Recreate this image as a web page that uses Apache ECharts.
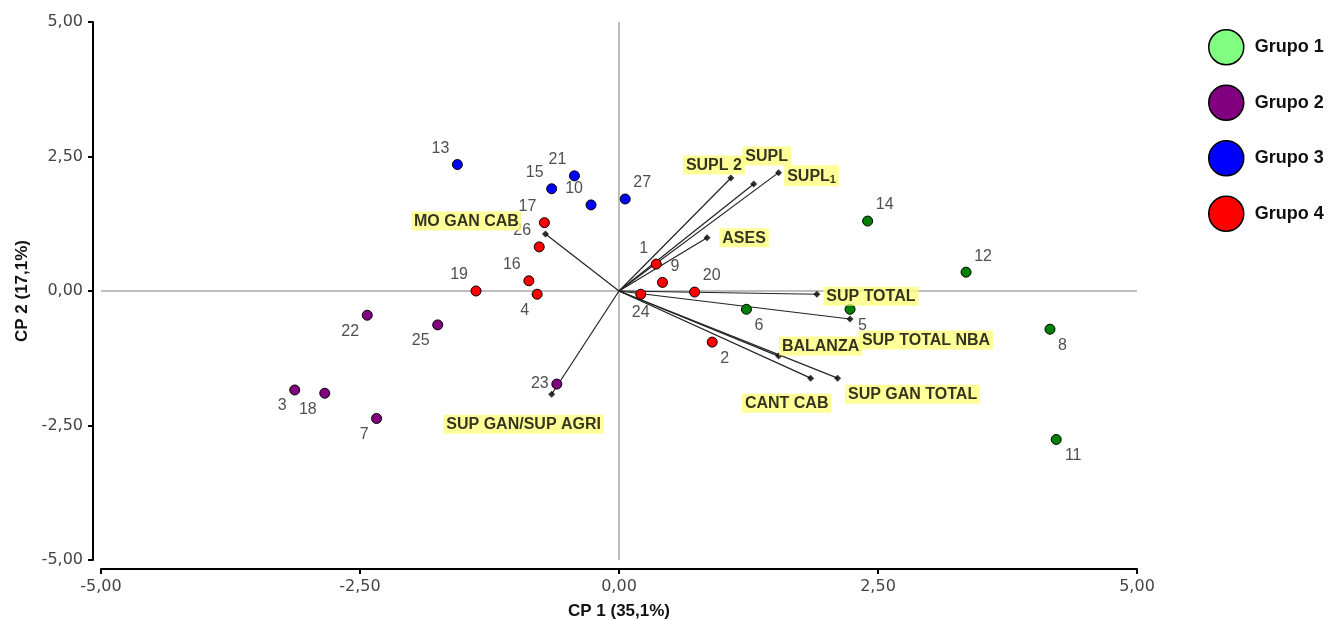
<!DOCTYPE html>
<html><head><meta charset="utf-8">
<script src="https://cdn.jsdelivr.net/npm/echarts@6/dist/echarts.min.js"></script>
<style>html,body{margin:0;padding:0;background:#fff}#c{width:1338px;height:620px}</style>
</head><body><div id="c"></div>
<script>
// ---- data ----
const groupNames = ['Grupo 1', 'Grupo 2', 'Grupo 3', 'Grupo 4'];
const pointIds = [1, 2, 3, 4, 5, 6, 7, 8, 9, 10, 11, 12, 13, 14, 15, 16, 17, 18, 19, 20, 21, 22, 23, 24, 25, 26, 27];
const pointX = [0.36, 0.90, -3.13, -0.79, 2.23, 1.23, -2.34, 4.16, 0.42, -0.27, 4.22, 3.35, -1.56, 2.40, -0.65, -0.87, -0.72, -2.84, -1.38, 0.73, -0.43, -2.43, -0.60, 0.21, -1.75, -0.77, 0.06];
const pointY = [0.50, -0.95, -1.84, -0.06, -0.34, -0.34, -2.37, -0.71, 0.16, 1.60, -2.76, 0.35, 2.35, 1.30, 1.90, 0.19, 1.27, -1.90, 0.00, -0.02, 2.14, -0.45, -1.73, -0.06, -0.63, 0.82, 1.71];
const pointGroup = [4, 4, 2, 4, 1, 1, 2, 1, 4, 3, 1, 1, 3, 1, 3, 4, 4, 2, 4, 4, 3, 2, 2, 4, 2, 4, 3];
const vecNames = ['SUPL 2', 'SUPL', 'SUPL1', 'ASES', 'MO GAN CAB', 'SUP TOTAL', 'SUP TOTAL NBA', 'BALANZA', 'CANT CAB', 'SUP GAN TOTAL', 'SUP GAN/SUP AGRI'];
const vecX = [1.08, 1.30, 1.54, 0.85, -0.71, 1.91, 2.23, 1.54, 1.85, 2.11, -0.65];
const vecY = [2.10, 1.99, 2.20, 0.99, 1.06, -0.06, -0.52, -1.21, -1.62, -1.62, -1.92];
const axisTicks = [-5, -2.5, 0, 2.5, 5];

// ---- styling / placement (not data) ----
const groupColors = ['#008000', '#800080', '#0000ff', '#ff0000'];
const legendColors = ['#80ff80', '#800080', '#0000ff', '#ff0000'];
const pointLabelDir = {1:'tl',2:'br',3:'bl',4:'bl',5:'br',6:'br',7:'bl',8:'br',9:'tr',10:'tl',11:'br',12:'tr',13:'tl',14:'tr',15:'tl',16:'tl',17:'tl',18:'bl',19:'tl',20:'tr',21:'tl',22:'bl',23:'l',24:'b',25:'bl',26:'tl',27:'tr'};
const vecLabelOffset = [[-17,-13],[13,-28],[33,3],[37,0],[-79,-13],[54,2],[76,21],[42,-10],[-24,25],[75,16],[-28,30]];

function labelOffset(id) {
  const d = pointLabelDir[id];
  const w = String(id).length * 9;
  const hx = 8 + w / 2;
  if (d === 'l') return [-hx, 0];
  if (d === 'b') return [0, 18];
  const sx = d[1] === 'l' ? -hx : hx;
  const sy = d[0] === 't' ? -16 : 16;
  return [sx, sy];
}
const fmt = v => v.toFixed(2).replace('.', ',');

const chart = echarts.init(document.getElementById('c'), null, {renderer: 'canvas'});

const series = [];
series.push({
  type: 'lines', coordinateSystem: 'cartesian2d', silent: true, z: 2,
  lineStyle: {color: '#222', width: 1.2, opacity: 1},
  data: vecNames.map((n, i) => ({coords: [[0, 0], [vecX[i], vecY[i]]]}))
});
groupNames.forEach((g, gi) => {
  const data = [];
  pointIds.forEach((id, i) => {
    if (pointGroup[i] === gi + 1) {
      data.push({name: String(id), value: [pointX[i], pointY[i]], label: {offset: labelOffset(id)}});
    }
  });
  const s = {
    type: 'scatter', name: g, z: 4, symbol: 'circle', symbolSize: 10,
    itemStyle: {color: groupColors[gi], borderColor: '#000', borderWidth: 1, opacity: 1},
    label: {show: true, position: 'inside', formatter: '{b}', color: '#505050', fontSize: 16,
            fontFamily: 'Liberation Sans, Arial, sans-serif', textBorderWidth: 0},
    emphasis: {disabled: true},
    data: data
  };
  if (gi === 0) {
    s.markLine = {
      silent: true, symbol: ['none', 'none'], label: {show: false},
      lineStyle: {color: '#a8a8a8', width: 1.5, type: 'solid'},
      data: [{xAxis: 0}, {yAxis: 0}], z: 1
    };
  }
  series.push(s);
});
series.push({
  type: 'scatter', name: 'vectores', z: 5, symbol: 'diamond', symbolSize: 7,
  itemStyle: {color: '#000'},
  emphasis: {disabled: true},
  label: {
    show: true, position: 'inside', color: '#000', fontSize: 16, fontWeight: 'bold',
    fontFamily: 'Liberation Sans, Arial, sans-serif', backgroundColor: '#ffff80',
    padding: [2, 3, 1, 3], textBorderWidth: 0,
    formatter: p => p.name === 'SUPL1' ? 'SUPL{s|1}' : p.name,
    rich: {s: {fontSize: 11, fontWeight: 'bold', color: '#000', fontFamily: 'Liberation Sans, Arial, sans-serif', padding: [7, 0, 0, 0]}}
  },
  data: vecNames.map((n, i) => ({name: n, value: [vecX[i], vecY[i]], label: {offset: vecLabelOffset[i]}}))
});

chart.setOption({
  animation: false,
  backgroundColor: '#fff',
  grid: {left: 101, right: 201, top: 22, bottom: 60, containLabel: false, outerBoundsMode: 'none'},
  legend: {
    orient: 'vertical', left: 1203, top: 24, itemWidth: 35, itemHeight: 35, itemGap: 19,
    icon: 'circle', selectedMode: false,
    itemStyle: {borderColor: '#000', borderWidth: 1.5},
    textStyle: {fontSize: 18, fontWeight: 'bold', color: '#111', fontFamily: 'Liberation Sans, Arial, sans-serif', padding: [0, 0, 0, 6]},
    data: groupNames.map((g, i) => ({name: g, itemStyle: {color: legendColors[i], borderColor: '#000', borderWidth: 1.5}}))
  },
  xAxis: {
    type: 'value', min: axisTicks[0], max: axisTicks[axisTicks.length - 1], interval: 2.5, offset: 9,
    name: 'CP 1 (35,1%)', nameLocation: 'middle', nameGap: 34,
    nameTextStyle: {fontSize: 17, fontWeight: 'bold', color: '#111', fontFamily: 'Liberation Sans, Arial, sans-serif'},
    axisLine: {onZero: false, lineStyle: {color: '#000', width: 2}},
    axisTick: {length: 5, lineStyle: {color: '#000', width: 2}},
    axisLabel: {formatter: fmt, margin: 10, fontSize: 16, color: '#444', fontFamily: 'DejaVu Sans, sans-serif'},
    splitLine: {show: false}
  },
  yAxis: {
    type: 'value', min: axisTicks[0], max: axisTicks[axisTicks.length - 1], interval: 2.5, offset: 8,
    name: 'CP 2 (17,1%)', nameLocation: 'middle', nameGap: 62,
    nameTextStyle: {fontSize: 17, fontWeight: 'bold', color: '#111', fontFamily: 'Liberation Sans, Arial, sans-serif'},
    axisLine: {onZero: false, lineStyle: {color: '#000', width: 2}},
    axisTick: {length: 5, lineStyle: {color: '#000', width: 2}},
    axisLabel: {formatter: fmt, margin: 10, fontSize: 16, color: '#444', fontFamily: 'DejaVu Sans, sans-serif'},
    splitLine: {show: false}
  },
  series: series
});
</script>
</body></html>
